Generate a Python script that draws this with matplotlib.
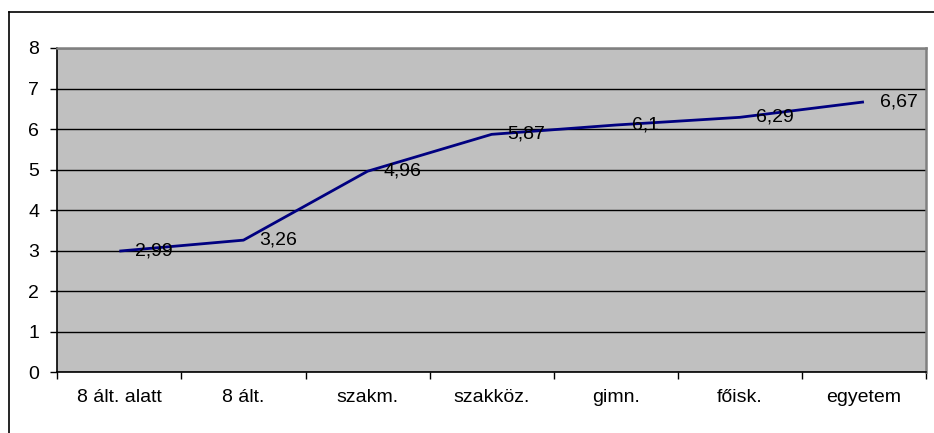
import matplotlib.pyplot as plt
from matplotlib.lines import Line2D

# Adatok
kategoriak = ["8 ált. alatt", "8 ált.", "szakm.", "szakköz.", "gimn.", "főisk.", "egyetem"]
ertekek = [2.99, 3.26, 4.96, 5.87, 6.1, 6.29, 6.67]
y_tickek = [0, 1, 2, 3, 4, 5, 6, 7, 8]

plt.rcParams['font.family'] = ['Liberation Sans', 'DejaVu Sans']

W, H = 934, 433
fig = plt.figure(figsize=(W / 100, H / 100), dpi=100)

# Külső keret (csak felső és bal oldal látszik)
fig.add_artist(Line2D([9 / W, 1], [1 - 12 / H, 1 - 12 / H], color="black", lw=1.2))
fig.add_artist(Line2D([9 / W, 9 / W], [1 - 12 / H, 0], color="black", lw=1.2))

ax = fig.add_axes([57.3 / W, 1 - 372.3 / H, (926 - 57.3) / W, (372.3 - 48) / H])
ax.set_facecolor("#C0C0C0")

x = [i + 0.5 for i in range(len(kategoriak))]
ax.plot(x, ertekek, color="#000080", lw=2, solid_capstyle="butt", zorder=3)

for xi, v in zip(x, ertekek):
    ax.annotate(f"{v:g}".replace(".", ","), (xi, v), xytext=(16, 0),
                textcoords="offset pixels", ha="left", va="center",
                fontsize=14, color="black", zorder=4)

ax.set_xlim(0, len(kategoriak))
ax.set_ylim(0, 8)
ax.set_yticks(y_tickek)
ax.set_yticklabels([str(t) for t in y_tickek], fontsize=14)
ax.grid(axis="y", color="black", lw=1)
ax.set_axisbelow(True)

ax.set_xticks(range(len(kategoriak) + 1))
ax.set_xticklabels([])
ax.set_xticks(x, minor=True)
ax.set_xticklabels(kategoriak, minor=True, fontsize=14)
ax.tick_params(axis="x", which="major", direction="out", length=5, width=1)
ax.tick_params(axis="x", which="minor", length=0, pad=12)
ax.tick_params(axis="y", direction="out", length=5, width=1, pad=8)

for s in ["left", "bottom"]:
    ax.spines[s].set_color("black")
    ax.spines[s].set_linewidth(1.2)
for s in ["top", "right"]:
    ax.spines[s].set_color("#808080")
    ax.spines[s].set_linewidth(1.8)

fig.savefig("out.png", dpi=100)
